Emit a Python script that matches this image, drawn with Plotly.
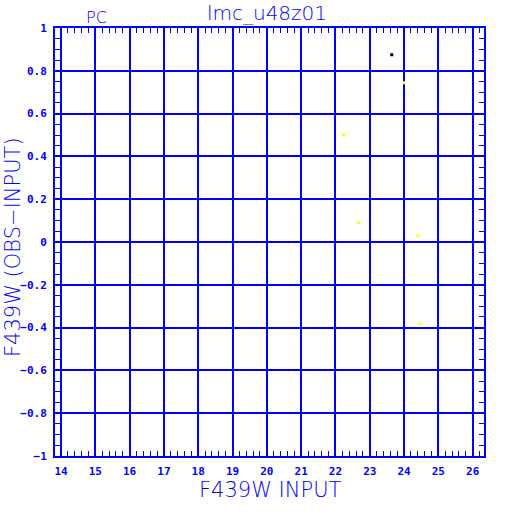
import plotly.graph_objects as go

# Data
x_black = [23.64]
y_black = [0.875]
x_yellow = [24.0, 22.24, 22.68, 24.40, 24.46]
y_yellow = [0.744, 0.501, 0.090, 0.028, -0.383]

title_text = "lmc_u48z01"
corner_text = "PC"
x_title = "F439W INPUT"
y_title = "F439W (OBS\u2212INPUT)"
x_range = [13.825, 26.33]
y_range = [-1, 1]

BLUE = "#0000ff"
W, H = 512, 512
# plot area in page pixels: left 55, right 484, top 28, bottom 456
L, T = 55, 28
R, B = W - 484, H - 456
pw, ph = W - L - R, H - T - B


def px(xp):  # page x -> paper x
    return (xp - L) / pw


def py(yp):  # page y -> paper y
    return 1 - (yp - T) / ph


fig = go.Figure()
fig.add_trace(go.Scatter(x=x_yellow, y=y_yellow, mode="markers",
                         marker=dict(symbol="square", size=3, color="#ffff00", line=dict(width=0)),
                         showlegend=False))
fig.add_trace(go.Scatter(x=x_black, y=y_black, mode="markers",
                         marker=dict(symbol="square", size=3, color="#000000", line=dict(width=0)),
                         showlegend=False))

tickfont = dict(family="DejaVu Sans Mono", size=11, color=BLUE, weight="bold")
labfont = dict(family="DejaVu Sans", size=21, color=BLUE, weight=200)

fig.update_xaxes(range=x_range, tick0=14, dtick=1, showgrid=True, gridcolor=BLUE, gridwidth=2,
                 zeroline=False, showline=True, linecolor=BLUE, linewidth=2, mirror="ticks",
                 ticks="inside", ticklen=0, tickcolor=BLUE, tickfont=tickfont, ticklabelstandoff=4,
                 minor=dict(dtick=0.2, tick0=14, ticks="inside", ticklen=5, tickcolor=BLUE, tickwidth=1, showgrid=False))
fig.update_yaxes(range=y_range, tick0=0, dtick=0.2, showgrid=True, gridcolor=BLUE, gridwidth=2,
                 zeroline=False, showline=True, linecolor=BLUE, linewidth=2, mirror="ticks",
                 ticks="inside", ticklen=0, tickcolor=BLUE, tickfont=tickfont, ticklabelstandoff=4,
                 minor=dict(dtick=0.05, tick0=0, ticks="inside", ticklen=5, tickcolor=BLUE, tickwidth=1, showgrid=False))

annotations = [
    dict(text=corner_text, x=px(96), y=py(18), xref="paper", yref="paper",
         showarrow=False, xanchor="center", yanchor="middle",
         font=dict(family="DejaVu Sans", size=16, color=BLUE, weight=200)),
    dict(text=x_title, x=px(270), y=py(490), xref="paper", yref="paper",
         showarrow=False, xanchor="center", yanchor="middle", font=labfont),
    dict(text=y_title, x=px(13), y=py(247), xref="paper", yref="paper",
         showarrow=False, xanchor="center", yanchor="middle", textangle=-90, font=labfont),
]

fig.update_layout(width=W, height=H, margin=dict(l=L, r=R, t=T, b=B, pad=0, autoexpand=False),
                  title=dict(text=title_text, x=267 / W, xref="container", xanchor="center",
                             y=1 - 13 / H, yref="container", yanchor="middle",
                             font=dict(family="DejaVu Sans", size=20, color=BLUE, weight=200)),
                  paper_bgcolor="white", plot_bgcolor="white", annotations=annotations)

fig.write_html("out.html", config={"displayModeBar": False},
               post_script="document.body.style.margin='0px';document.body.style.overflow='hidden';")
